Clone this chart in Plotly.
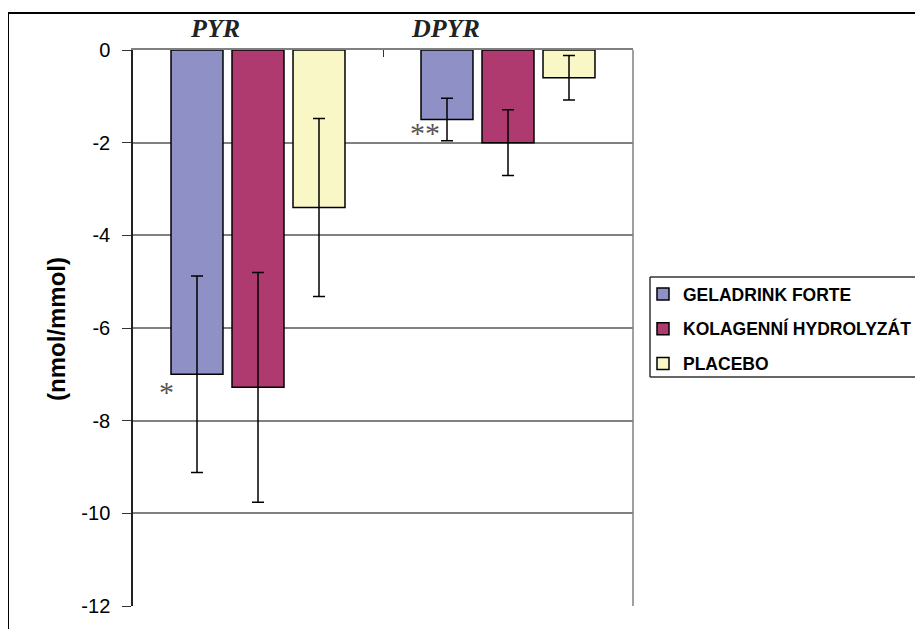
import plotly.graph_objects as go

categories = ["PYR", "DPYR"]
series_names = ["GELADRINK FORTE", "KOLAGENNÍ HYDROLYZÁT", "PLACEBO"]
geladrink = [-7.0, -1.5]
kolagen = [-7.28, -2.0]
placebo = [-3.4, -0.6]
geladrink_err = [2.12, 0.46]
kolagen_err = [2.48, 0.71]
placebo_err = [1.92, 0.48]
colors = ["#8E90C6", "#AE3A6F", "#F9F7C6"]
y_ticks = [0, -2, -4, -6, -8, -10, -12]

OFF = 8  # page body margin
W, H = 923 - OFF, 637 - 2 * OFF
# plot area in page pixels
L, R, T, B = 133, 633, 50, 606
pw, ph = R - L, B - T

def px(x):
    return (x - L) / pw

def py(y):
    return 1 - (y - T) / ph

fig = go.Figure()
for name, vals, errs, col in zip(series_names, [geladrink, kolagen, placebo],
                                 [geladrink_err, kolagen_err, placebo_err], colors):
    fig.add_trace(go.Bar(
        x=categories, y=vals, name=name, legendgroup=name,
        marker=dict(color=col, line=dict(color="black", width=1.5)),
        error_y=dict(type="data", array=errs, visible=True, color="black",
                     thickness=1.5, width=6),
    ))

fig.update_layout(
    width=W, height=H,
    margin=dict(l=L - OFF, r=W - (R - OFF), t=T - OFF, b=H - (B - OFF), pad=0,
                autoexpand=False),
    paper_bgcolor="white", plot_bgcolor="white",
    barmode="group", bargap=0.268, bargroupgap=0.148,
    font=dict(family="Liberation Sans, Arial", color="black"),
    legend=dict(
        x=px(643), y=py(276), xanchor="left", yanchor="top",
        borderwidth=0, bgcolor="rgba(0,0,0,0)",
        font=dict(size=17.5, family="Liberation Sans, Arial", color="black", weight="bold"),
        traceorder="grouped", tracegroupgap=9, itemwidth=30,
    ),
    xaxis=dict(
        side="top", range=[-0.5, 1.5], showticklabels=False,
        showline=True, linecolor="#808080", linewidth=1.5,
        ticks="inside", ticklen=7, tickcolor="#333333", tickson="boundaries",
        showgrid=False, zeroline=False,
    ),
    yaxis=dict(
        range=[-12, 0], tickvals=y_ticks, ticktext=[str(v) for v in y_ticks],
        showline=True, linecolor="#222222", linewidth=1.5,
        ticks="outside", ticklen=9, tickcolor="#333333",
        showgrid=True, gridcolor="#808080", gridwidth=1.5,
        zeroline=False,
        tickfont=dict(size=20, family="Liberation Sans, Arial", color="black"),
        ticklabelstandoff=8,
    ),
)

# category labels
for cat, cx in zip(categories, [215, 445]):
    fig.add_annotation(text=cat, x=px(cx), y=py(28.5), xref="paper", yref="paper",
                       showarrow=False, xanchor="center", yanchor="middle",
                       font=dict(size=26, family="Liberation Serif, Times New Roman",
                                 color="#222222", weight="bold", style="italic"))

# significance marks
fig.add_annotation(text="*", x=px(166), y=py(391), xref="paper", yref="paper",
                   showarrow=False, xanchor="center", yanchor="middle",
                   font=dict(size=30, family="Liberation Serif", color="#555555"))
fig.add_annotation(text="**", x=px(424.5), y=py(133), xref="paper", yref="paper",
                   showarrow=False, xanchor="center", yanchor="middle",
                   font=dict(size=30, family="Liberation Serif", color="#555555"))

# y axis title
fig.add_annotation(text="(nmol/mmol)", x=px(56), y=py(329), xref="paper", yref="paper",
                   showarrow=False, textangle=-90, xanchor="center", yanchor="middle",
                   font=dict(size=24, family="Liberation Sans, Arial", color="black",
                             weight="bold"))

def seg(x0, y0, x1, y1, color, width):
    fig.add_shape(type="line", xref="paper", yref="paper",
                  x0=px(x0), y0=py(y0), x1=px(x1), y1=py(y1),
                  line=dict(color=color, width=width))

EDGE_X = OFF + W      # right edge of the figure on the page
EDGE_Y = OFF + H      # bottom edge of the figure on the page
# plot-area right border
seg(R, T, R, B, "#808080", 1.5)
# legend box (right side runs off the picture)
seg(650, 277, EDGE_X, 277, "#333333", 1.5)
seg(650, 377, EDGE_X, 377, "#333333", 1.5)
seg(650, 277, 650, 377, "#333333", 1.5)
# outer chart frame (top and left edges visible)
seg(8, 13, EDGE_X, 13, "black", 2)
seg(8, 13, 8, EDGE_Y, "black", 2)

fig.write_html("out.html")
